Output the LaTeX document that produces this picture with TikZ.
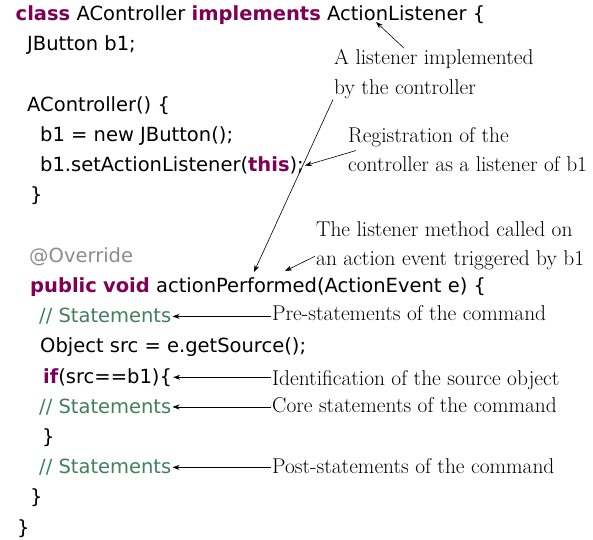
\documentclass[tikz,border=0pt]{standalone}
\usepackage{fontspec}
\usepackage{xcolor}
\newfontfamily\codefont{DejaVu Sans}
\definecolor{kwpurple}{RGB}{127,0,85}
\definecolor{cmtgreen}{RGB}{63,127,95}
\definecolor{anngray}{RGB}{140,140,140}
\newcommand{\kw}[1]{\textcolor{kwpurple}{\bfseries #1}}
\newcommand{\cmt}[1]{\textcolor{cmtgreen}{#1}}
\usetikzlibrary{calc,arrows.meta}

\tikzset{
  code/.style={anchor=base west, inner xsep=1pt, inner ysep=0pt,
    font=\codefont\fontsize{19.5}{23}\selectfont},
  note/.style={anchor=base west, inner sep=1pt, align=left,
    font=\fontsize{21.4}{29.5}\selectfont},
  pointer/.style={-{Stealth[length=7pt,width=5pt]}, line width=0.6pt}
}

\begin{document}
\begin{tikzpicture}[x=1pt,y=-1pt]
  \useasboundingbox (0,0) rectangle (593,539);

  % the code
  \node[code] (cls)   at (14.5,20.7)  {\kw{class} AController \kw{implements} ActionListener \{};
  \node[code] (btn)   at (26,50.9)    {JButton b1;};
  \node[code] (ctor)  at (26,111.3)   {AController() \{};
  \node[code] (newb)  at (39,141.5)   {b1 = new JButton();};
  \node[code] (setl)  at (39,171.7)   {b1.setActionListener(\kw{this});};
  \node[code] (ctorE) at (29,201.9)   {\}};
  \node[code] (ovr)   at (28,262.3)   {\textcolor{anngray}{@Override}};
  \node[code] (hdl)   at (29,292.5)   {\kw{public} \kw{void} actionPerformed(ActionEvent e) \{};
  \node[code] (stmA)  at (38,322.7)   {\cmt{// Statements}};
  \node[code] (src)   at (39,352.9)   {Object src = e.getSource();};
  \node[code] (test)  at (42,383.1)   {\kw{if}(src==b1)\{};
  \node[code] (stmB)  at (38,413.3)   {\cmt{// Statements}};
  \node[code] (testE) at (41,443.5)   {\}};
  \node[code] (stmC)  at (38,473.7)   {\cmt{// Statements}};
  \node[code] (hdlE)  at (29,503.9)   {\}};
  \node[code] (clsE)  at (16,534.1)   {\}};

  % the notes (base = last line)
  \node[note] (lis)   at (333,94)    {A listener implemented\\by the controller};
  \node[note] (reg)   at (347,171.7) {Registration of the\\controller as a listener of b1};
  \node[note] (meth)  at (315,265.7) {The listener method called on\\an action event triggered by b1};
  \node[note] (pre)   at (271,320.7) {Pre-statements of the command};
  \node[note] (ident) at (271,385)   {Identification of the source object};
  \node[note] (core)  at (271,412.3) {Core statements of the command};
  \node[note] (post)  at (271,473.3) {Post-statements of the command};

  \coordinate (ifaceTip)   at (376,22);
  \coordinate (handlerTip) at (254,272);
  \coordinate (methTip)    at (285,271);

  % pointers
  \draw[pointer] ($(lis.north west)+(71,0)$) -- (ifaceTip);
  \draw[pointer] (lis.south west) -- (handlerTip);
  \draw[pointer] ($(reg.west)+(9,1)$) -- (setl.east);
  \draw[pointer] ($(meth.south west)+(0,-15)$) -- (methTip);
  \draw[pointer] (pre.west |- stmA.east) -- (stmA.east);
  \draw[pointer] (ident.west |- test.east) -- (test.east);
  \draw[pointer] (core.west |- stmB.east) -- (stmB.east);
  \draw[pointer] (post.west |- stmC.east) -- (stmC.east);
\end{tikzpicture}
\end{document}
